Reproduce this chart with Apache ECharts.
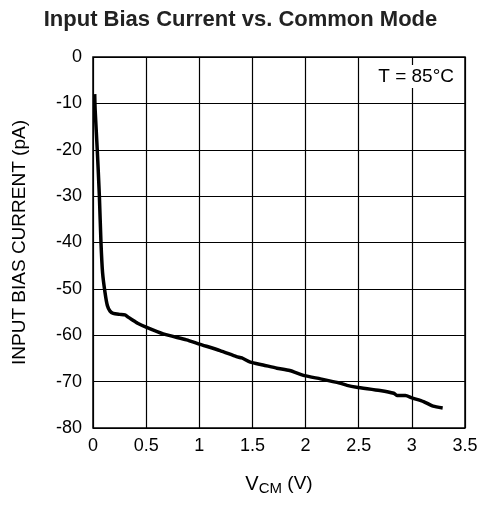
<!DOCTYPE html>
<html><head><meta charset="utf-8">
<script src="https://cdn.jsdelivr.net/npm/echarts@6/dist/echarts.min.js"></script>
<style>html,body{margin:0;padding:0;background:#fff}#c{width:481px;height:507px}</style>
</head><body><div id="c"></div>
<script>
const titleText = "Input Bias Current vs. Common Mode";
const xTicks = [0, 0.5, 1, 1.5, 2, 2.5, 3, 3.5];
const yTicks = [0, -10, -20, -30, -40, -50, -60, -70, -80];
const vcm = [0.016, 0.02, 0.04, 0.06, 0.075, 0.09, 0.113, 0.135, 0.16, 0.19, 0.25, 0.30, 0.33, 0.364, 0.42, 0.505, 0.66, 0.88, 1.0, 1.195, 1.35, 1.40, 1.48, 1.60, 1.73, 1.85, 1.99, 2.14, 2.32, 2.39, 2.48, 2.70, 2.83, 2.86, 2.94, 3.0, 3.11, 3.20, 3.29];
const ibias = [-8.0, -11.3, -20, -30, -40, -46.5, -50.8, -53.6, -54.8, -55.3, -55.5, -55.6, -56.1, -56.6, -57.4, -58.3, -59.7, -61.0, -61.9, -63.3, -64.6, -64.9, -65.8, -66.4, -67.1, -67.6, -68.7, -69.4, -70.3, -70.8, -71.2, -71.9, -72.5, -73.0, -73.0, -73.5, -74.3, -75.3, -75.7];
const note = "T = 85°C";

const chart = echarts.init(document.getElementById('c'));
const font = 'Liberation Sans, Arial, sans-serif';
chart.setOption({
  animation: false,
  title: { text: titleText, left: 'center', top: 4,
    textStyle: { fontFamily: font, fontSize: 22, fontWeight: 'bold', color: '#222' } },
  grid: { left: 93, right: 16, top: 57, bottom: 79, show: true, borderColor: '#000', borderWidth: 1.5 },
  xAxis: { type: 'value', min: 0, max: 3.5, interval: 0.5,
    axisLine: { show: false }, axisTick: { show: false },
    splitLine: { lineStyle: { color: '#000', width: 1.2 } },
    axisLabel: { fontFamily: font, fontSize: 18, color: '#000', margin: 9,
      formatter: v => xTicks.indexOf(v) >= 0 ? String(v) : '' },
    name: '{a|V}{s|CM}{b| (V)}', nameLocation: 'middle', nameGap: 44,
    nameTextStyle: { rich: {
      a: { fontFamily: font, fontSize: 20, color: '#000', lineHeight: 24 },
      b: { fontFamily: font, fontSize: 19, color: '#000', lineHeight: 24 },
      s: { fontFamily: font, fontSize: 15, color: '#000', lineHeight: 24, padding: [10, 0, 0, 0] } } } },
  yAxis: { type: 'value', min: -80, max: 0, interval: 10,
    axisLine: { show: false }, axisTick: { show: false },
    splitLine: { lineStyle: { color: '#000', width: 1.2 } },
    axisLabel: { fontFamily: font, fontSize: 18, color: '#000', margin: 11,
      formatter: v => yTicks.indexOf(v) >= 0 ? String(v) : '' },
    name: 'INPUT BIAS CURRENT (pA)', nameLocation: 'middle', nameGap: 64, nameRotate: 90,
    nameTextStyle: { fontFamily: font, fontSize: 19, color: '#000' } },
  series: [{ type: 'line', data: vcm.map((x, i) => [x, ibias[i]]), symbol: 'none',
    smooth: 0.2, lineStyle: { color: '#000', width: 3.5 } }],
  graphic: [{ type: 'text', right: 25, top: 65, z: 100,
    style: { text: note, fontFamily: font, fontSize: 19, fill: '#000',
      backgroundColor: '#fff', padding: [2, 2, 2, 2] } }]
});
</script></body></html>
